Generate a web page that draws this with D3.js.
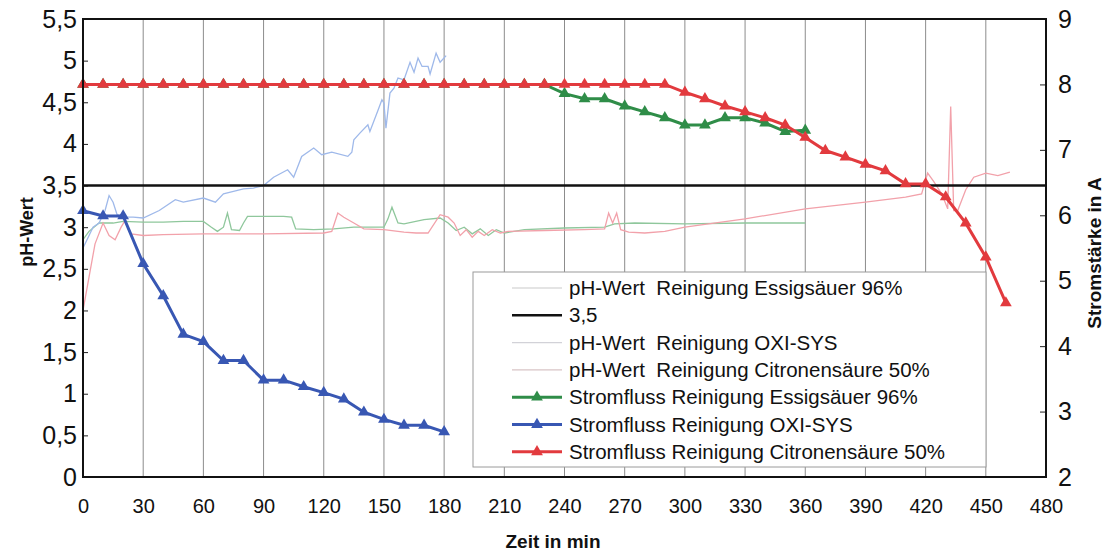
<!DOCTYPE html>
<html>
<head>
<meta charset="utf-8">
<script src="https://cdn.jsdelivr.net/npm/d3@7"></script>
<style>
  body { margin: 0; background: #fff; }
  svg { font-family: "Liberation Sans", Arial, sans-serif; display: block; }
</style>
</head>
<body>
<svg id="chart"></svg>
<script>
// ---- data ----
const xTicks = [0, 30, 60, 90, 120, 150, 180, 210, 240, 270, 300, 330, 360, 390, 420, 450, 480];
const phTicks = [0, 0.5, 1, 1.5, 2, 2.5, 3, 3.5, 4, 4.5, 5, 5.5];
const stromTicks = [2, 3, 4, 5, 6, 7, 8, 9];

// Stromfluss (right axis), measured every 10 min
const stromEssigTime = [0, 10, 20, 30, 40, 50, 60, 70, 80, 90, 100, 110, 120, 130, 140, 150, 160, 170, 180,
  190, 200, 210, 220, 230, 240, 250, 260, 270, 280, 290, 300, 310, 320, 330, 340, 350, 360];
const stromEssig = [8, 8, 8, 8, 8, 8, 8, 8, 8, 8, 8, 8, 8, 8, 8, 8, 8, 8, 8,
  8, 8, 8, 8, 8, 7.86, 7.78, 7.78, 7.67, 7.58, 7.49, 7.38, 7.38, 7.49, 7.49, 7.41, 7.28, 7.3];

const stromOxiTime = [0, 10, 20, 30, 40, 50, 60, 70, 80, 90, 100, 110, 120, 130, 140, 150, 160, 170, 180];
const stromOxi = [6.07, 5.99, 5.99, 5.26, 4.77, 4.18, 4.07, 3.78, 3.78, 3.48, 3.48, 3.38, 3.29, 3.19, 2.99, 2.88, 2.79, 2.79, 2.69];

const stromCitroTime = [0, 10, 20, 30, 40, 50, 60, 70, 80, 90, 100, 110, 120, 130, 140, 150, 160, 170, 180,
  190, 200, 210, 220, 230, 240, 250, 260, 270, 280, 290, 300, 310, 320, 330, 340, 350, 360, 370, 380, 390,
  400, 410, 420, 430, 440, 450, 460];
const stromCitro = [8, 8, 8, 8, 8, 8, 8, 8, 8, 8, 8, 8, 8, 8, 8, 8, 8, 8, 8,
  8, 8, 8, 8, 8, 8, 8, 8, 8, 8, 8, 7.88, 7.78, 7.67, 7.58, 7.49, 7.38, 7.19, 6.99, 6.89, 6.78,
  6.68, 6.48, 6.48, 6.28, 5.88, 5.36, 4.66];

// pH-Wert (left axis), logged continuously
const phEssigTime = [0, 3, 8, 15, 20, 30, 40, 50, 60, 64, 67, 70, 72, 74, 78, 80, 82, 90, 100, 104, 106, 115, 125,
  135, 145, 150, 152, 154, 157, 160, 170, 178, 182, 186, 190, 194, 198, 202, 206, 210, 220, 240, 260, 265, 275,
  300, 330, 360];
const phEssig = [2.85, 2.95, 3.05, 3.05, 3.07, 3.06, 3.06, 3.07, 3.07, 3.0, 2.95, 3.0, 3.17, 2.97, 2.96, 3.05, 3.13,
  3.13, 3.13, 3.12, 2.98, 2.97, 2.98, 3.0, 3.0, 3.0, 3.1, 3.24, 3.05, 3.04, 3.09, 3.11, 3.05, 2.96, 3.0, 2.92, 2.98,
  2.9, 2.97, 2.93, 2.97, 2.99, 3.0, 3.04, 3.05, 3.04, 3.05, 3.05];

const phOxiTime = [0, 2, 5, 8, 11, 13, 15, 17, 20, 25, 30, 38, 46, 50, 60, 66, 70, 75, 80, 85, 90, 95, 102, 105,
  109, 115, 119, 124, 132, 134, 135, 138, 142, 143, 147, 149, 150, 151, 153, 155, 157, 160, 163, 165, 167, 169,
  172, 173, 176, 178, 181];
const phOxi = [2.75, 2.85, 3.0, 3.05, 3.2, 3.38, 3.3, 3.15, 3.12, 3.12, 3.11, 3.2, 3.33, 3.3, 3.35, 3.3, 3.4, 3.43,
  3.46, 3.47, 3.5, 3.6, 3.69, 3.6, 3.85, 3.95, 3.87, 3.9, 3.85, 3.9, 4.05, 4.13, 4.23, 4.15, 4.4, 4.53, 4.49, 4.19,
  4.61, 4.67, 4.79, 4.77, 4.98, 4.86, 5.03, 4.93, 4.93, 4.84, 5.09, 4.98, 5.06];

const phCitroTime = [0, 3, 6, 10, 13, 16, 19, 21, 24, 30, 40, 60, 90, 120, 124, 127, 130, 135, 140, 150, 160, 166,
  172, 178, 182, 185, 188, 191, 194, 197, 200, 204, 208, 212, 230, 250, 260, 262, 264, 266, 268, 272, 280, 290,
  300, 330, 360, 390, 410, 418, 421, 424, 428, 431, 432.5, 434, 436, 440, 444, 450, 456, 462];
const phCitro = [2.0, 2.4, 2.8, 3.05, 2.9, 2.85, 3.0, 3.08, 2.92, 2.9, 2.91, 2.92, 2.92, 2.93, 2.95, 3.17, 3.12,
  3.05, 2.98, 2.97, 2.94, 2.93, 2.93, 3.15, 3.12, 3.05, 2.9, 2.97, 2.88, 2.95, 2.9, 2.97, 2.93, 2.95, 2.96, 2.97,
  2.98, 3.17, 3.05, 3.17, 2.97, 2.94, 2.93, 2.95, 3.0, 3.1, 3.22, 3.3, 3.36, 3.4, 3.65, 3.55, 3.4, 3.22, 4.45, 3.2,
  3.2, 3.45, 3.6, 3.65, 3.62, 3.66];

const limitTime = [0, 480];
const limitPh = [3.5, 3.5];

const legendLabels = [
  "pH-Wert  Reinigung Essigsäuer 96%",
  "3,5",
  "pH-Wert  Reinigung OXI-SYS",
  "pH-Wert  Reinigung Citronensäure 50%",
  "Stromfluss Reinigung Essigsäuer 96%",
  "Stromfluss Reinigung OXI-SYS",
  "Stromfluss Reinigung Citronensäure 50%"
];

const zip = (ts, vs) => ts.map((t, i) => ({ t: t, v: vs[i] }));

class DualAxisChart {

  constructor(_config) {
    this.config = {
      parentElement: _config.parentElement,
      containerWidth: _config.containerWidth || 1106,
      containerHeight: _config.containerHeight || 552,
      margin: { top: 19, bottom: 75, right: 60, left: 83 }
    };
    this.initVis();
  }

  initVis() {
    let vis = this;

    vis.width = vis.config.containerWidth - vis.config.margin.left - vis.config.margin.right;
    vis.height = vis.config.containerHeight - vis.config.margin.top - vis.config.margin.bottom;

    vis.xScale = d3.scaleLinear().domain([0, 480]).range([0, vis.width]);
    vis.yPh = d3.scaleLinear().domain([0, 5.5]).range([vis.height, 0]);
    vis.yStrom = d3.scaleLinear().domain([2, 9]).range([vis.height, 0]);

    // german decimal comma
    vis.locale = d3.formatLocale({ decimal: ",", thousands: ".", grouping: [3], currency: ["", " €"] });

    vis.svg = d3.select(vis.config.parentElement)
      .attr('width', vis.config.containerWidth)
      .attr('height', vis.config.containerHeight);

    vis.chart = vis.svg.append('g')
      .attr('transform', `translate(${vis.config.margin.left},${vis.config.margin.top})`);

    vis.renderVis();
  }

  renderVis() {
    let vis = this;

    // vertical gridlines
    vis.chart.append('g')
      .selectAll('line')
      .data(xTicks)
      .join('line')
      .attr('x1', d => vis.xScale(d))
      .attr('x2', d => vis.xScale(d))
      .attr('y1', 0)
      .attr('y2', vis.height)
      .attr('stroke', '#8c8c8c')
      .attr('stroke-width', 1);

    // axes
    const xAxis = d3.axisBottom(vis.xScale).tickValues(xTicks).tickSize(0).tickPadding(22);
    const yAxisL = d3.axisLeft(vis.yPh).tickValues(phTicks).tickSizeInner(-5).tickSizeOuter(0)
      .tickPadding(6).tickFormat(vis.locale.format(","));
    const yAxisR = d3.axisRight(vis.yStrom).tickValues(stromTicks).tickSizeInner(-6).tickSizeOuter(0)
      .tickPadding(12).tickFormat(d3.format("d"));

    const gx = vis.chart.append('g').attr('transform', `translate(0,${vis.height})`).call(xAxis);
    const gl = vis.chart.append('g').call(yAxisL);
    const gr = vis.chart.append('g').attr('transform', `translate(${vis.width},0)`).call(yAxisR);
    [gx, gl, gr].forEach(g => {
      g.select('.domain').remove();
      g.selectAll('text').attr('fill', '#111').attr('font-family', '"Liberation Sans", Arial, sans-serif');
      g.selectAll('line').attr('stroke', '#222');
    });
    gx.selectAll('text').attr('font-size', 20);
    gl.selectAll('text').attr('font-size', 25);
    gr.selectAll('text').attr('font-size', 25);

    // pH lines
    const linePh = d3.line().x(d => vis.xScale(d.t)).y(d => vis.yPh(d.v));
    const lineStrom = d3.line().x(d => vis.xScale(d.t)).y(d => vis.yStrom(d.v));

    const phSeries = [
      { data: zip(phEssigTime, phEssig), color: '#8fc79c' },
      { data: zip(phOxiTime, phOxi), color: '#9fb9ea' },
      { data: zip(phCitroTime, phCitro), color: '#f2a1aa' }
    ];
    vis.chart.append('g')
      .selectAll('path')
      .data(phSeries)
      .join('path')
      .attr('d', d => linePh(d.data))
      .attr('fill', 'none')
      .attr('stroke', d => d.color)
      .attr('stroke-width', 1.3);

    // 3,5 limit
    vis.chart.append('path')
      .attr('d', linePh(zip(limitTime, limitPh)))
      .attr('fill', 'none')
      .attr('stroke', '#111')
      .attr('stroke-width', 2.5);

    // Stromfluss lines with triangle markers
    vis.stromSeries = [
      { data: zip(stromEssigTime, stromEssig), color: '#2f8d48' },
      { data: zip(stromOxiTime, stromOxi), color: '#3857b3' },
      { data: zip(stromCitroTime, stromCitro), color: '#e23a3e' }
    ];
    vis.triangle = d3.symbol().type(d3.symbolTriangle).size(60);

    vis.stromSeries.forEach(s => {
      const g = vis.chart.append('g');
      g.append('path')
        .attr('d', lineStrom(s.data))
        .attr('fill', 'none')
        .attr('stroke', s.color)
        .attr('stroke-width', 3);
      g.selectAll('path.marker')
        .data(s.data)
        .join('path')
        .attr('class', 'marker')
        .attr('d', vis.triangle)
        .attr('transform', d => `translate(${vis.xScale(d.t)},${vis.yStrom(d.v)})`)
        .attr('fill', s.color);
    });

    // plot border
    vis.chart.append('rect')
      .attr('width', vis.width)
      .attr('height', vis.height)
      .attr('fill', 'none')
      .attr('stroke', '#111')
      .attr('stroke-width', 2);

    vis.renderLegend();

    // axis titles
    vis.svg.append('text')
      .attr('transform', `translate(33,232) rotate(-90)`)
      .attr('text-anchor', 'middle')
      .attr('font-size', 18)
      .attr('font-weight', 'bold')
      .attr('fill', '#111')
      .text('pH-Wert');

    vis.svg.append('text')
      .attr('transform', `translate(1101,253) rotate(-90)`)
      .attr('text-anchor', 'middle')
      .attr('font-size', 19)
      .attr('font-weight', 'bold')
      .attr('fill', '#111')
      .text('Stromstärke in A');

    vis.svg.append('text')
      .attr('x', 553)
      .attr('y', 548)
      .attr('text-anchor', 'middle')
      .attr('font-size', 19)
      .attr('font-weight', 'bold')
      .attr('fill', '#111')
      .text('Zeit in min');
  }

  renderLegend() {
    let vis = this;
    const lx = 473, ly = 272, lw = 513, lh = 195, rowH = 27.3;

    const styles = [
      { color: '#c9c9c9', width: 1.2, marker: false },
      { color: '#111', width: 2.5, marker: false },
      { color: '#d2d2d8', width: 1.2, marker: false },
      { color: '#d8c4c6', width: 1.2, marker: false },
      { color: vis.stromSeries[0].color, width: 3, marker: true },
      { color: vis.stromSeries[1].color, width: 3, marker: true },
      { color: vis.stromSeries[2].color, width: 3, marker: true }
    ];

    const legend = vis.svg.append('g').attr('transform', `translate(${lx},${ly})`);
    legend.append('rect')
      .attr('width', lw)
      .attr('height', lh)
      .attr('fill', '#fff')
      .attr('stroke', '#9a9a9a')
      .attr('stroke-width', 1);

    const rows = legend.selectAll('g.row')
      .data(legendLabels)
      .join('g')
      .attr('class', 'row')
      .attr('transform', (d, i) => `translate(0,${16 + i * rowH})`);

    rows.append('line')
      .attr('x1', 39).attr('x2', 89)
      .attr('stroke', (d, i) => styles[i].color)
      .attr('stroke-width', (d, i) => styles[i].width);

    rows.filter((d, i) => styles[i].marker)
      .append('path')
      .attr('d', vis.triangle)
      .attr('transform', 'translate(64,0)')
      .attr('fill', d => styles[legendLabels.indexOf(d)].color);

    rows.append('text')
      .attr('x', 96)
      .attr('dy', '0.35em')
      .attr('font-size', 20.5)
      .attr('fill', '#111')
      .style('white-space', 'pre')
      .text(d => d);
  }
}

new DualAxisChart({ parentElement: '#chart', containerWidth: 1106, containerHeight: 552 });
</script>
</body>
</html>
